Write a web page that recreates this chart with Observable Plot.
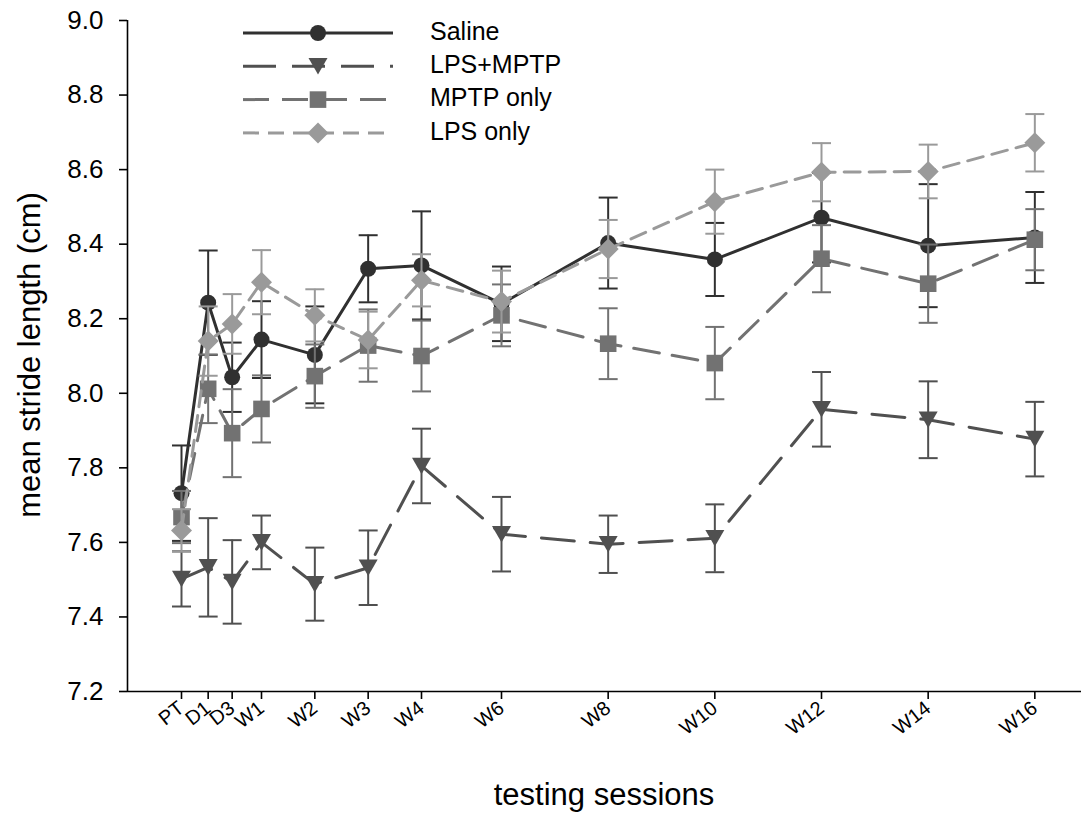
<!DOCTYPE html>
<html>
<head>
<meta charset="utf-8">
<script src="https://cdn.jsdelivr.net/npm/d3@7"></script>
<script src="https://cdn.jsdelivr.net/npm/@observablehq/plot@0.6"></script>
<style>
  body { margin: 0; background: #fff; }
  #chart svg { display: block; }
</style>
</head>
<body>
<div id="chart"></div>
<script>
// ---------------- data ----------------
const sessions   = ["PT", "D1", "D3", "W1", "W2", "W3", "W4", "W6", "W8", "W10", "W12", "W14", "W16"];
const sessionX   = [0, 1, 1.9, 3, 5, 7, 9, 12, 16, 20, 24, 28, 32];   // session position on the time axis

const seriesNames = ["Saline", "LPS+MPTP", "MPTP only", "LPS only"];

const salineMean = [7.732, 8.243, 8.043, 8.144, 8.103, 8.334, 8.343, 8.240, 8.403, 8.359, 8.471, 8.396, 8.418];
const salineSE   = [0.128, 0.140, 0.093, 0.103, 0.130, 0.090, 0.145, 0.100, 0.122, 0.098, 0.120, 0.165, 0.122];

const lpsMptpMean = [7.502, 7.533, 7.494, 7.600, 7.488, 7.532, 7.805, 7.622, 7.595, 7.611, 7.957, 7.929, 7.877];
const lpsMptpSE   = [0.074, 0.132, 0.112, 0.072, 0.098, 0.100, 0.100, 0.100, 0.077, 0.091, 0.100, 0.103, 0.100];

const mptpMean = [7.668, 8.012, 7.893, 7.958, 8.046, 8.128, 8.100, 8.209, 8.133, 8.081, 8.361, 8.294, 8.412];
const mptpSE   = [0.070, 0.092, 0.118, 0.090, 0.085, 0.097, 0.095, 0.083, 0.095, 0.097, 0.090, 0.105, 0.082];

const lpsMean = [7.632, 8.140, 8.186, 8.298, 8.209, 8.143, 8.303, 8.246, 8.387, 8.514, 8.593, 8.595, 8.672];
const lpsSE   = [0.057, 0.093, 0.080, 0.086, 0.070, 0.076, 0.070, 0.083, 0.078, 0.086, 0.078, 0.072, 0.077];

const yTicks = [7.2, 7.4, 7.6, 7.8, 8.0, 8.2, 8.4, 8.6, 8.8, 9.0];
const yDomain = [7.2, 9.0];
const xDomain = [-2.025, 33.75];

const yLabel = "mean stride length (cm)";
const xLabel = "testing sessions";

// ---------------- symbols ----------------
function sym(fn) { return { draw(ctx, size) { fn(ctx, Math.sqrt(size / Math.PI)); } }; }
const circleSym  = sym((c, r) => { c.moveTo(r, 0); c.arc(0, 0, r, 0, 2 * Math.PI); c.closePath(); });
const triDownSym = sym((c, r) => { const h = 0.87 * r; c.moveTo(-r, -h); c.lineTo(r, -h); c.lineTo(0, h); c.closePath(); });
const squareSym  = sym((c, r) => { c.rect(-r, -r, 2 * r, 2 * r); });
const diamondSym = sym((c, r) => { c.moveTo(0, -r); c.lineTo(r, 0); c.lineTo(0, r); c.lineTo(-r, 0); c.closePath(); });
const capSym     = sym((c, r) => { c.moveTo(-r, 0); c.lineTo(r, 0); });

const styles = [
  { color: "#303030", dash: null,    symbol: circleSym,  r: 8 },
  { color: "#505050", dash: "33,16", symbol: triDownSym, r: 9.5 },
  { color: "#727272", dash: "26,13", symbol: squareSym,  r: 8.3 },
  { color: "#9a9a9a", dash: "16,9",  symbol: diamondSym, r: 10.5 }
];

const seriesData = [
  [salineMean, salineSE],
  [lpsMptpMean, lpsMptpSE],
  [mptpMean, mptpSE],
  [lpsMean, lpsSE]
].map(([m, s], k) => sessions.map((lab, i) => ({
  series: seriesNames[k], x: sessionX[i], label: lab, mean: m[i], se: s[i]
})));

const labelByX = new Map(sessionX.map((x, i) => [x, sessions[i]]));

// ---------------- marks ----------------
const marks = [];
seriesData.forEach((rows, k) => {
  const st = styles[k];
  marks.push(
    Plot.line(rows, { x: "x", y: "mean", stroke: st.color, strokeWidth: 3,
      strokeDasharray: st.dash || undefined, strokeLinejoin: "miter" }),
    Plot.ruleX(rows, { x: "x", y1: d => d.mean - d.se, y2: d => d.mean + d.se, stroke: st.color, strokeWidth: 2 }),
    Plot.dot(rows, { x: "x", y: d => d.mean + d.se, symbol: capSym, r: 9.5, fill: "none", stroke: st.color, strokeWidth: 2 }),
    Plot.dot(rows, { x: "x", y: d => d.mean - d.se, symbol: capSym, r: 9.5, fill: "none", stroke: st.color, strokeWidth: 2 }),
    Plot.dot(rows, { x: "x", y: "mean", symbol: st.symbol, r: st.r, fill: st.color, stroke: "none" })
  );
});

const chart = Plot.plot({
  width: 1081,
  height: 813,
  marginLeft: 127,
  marginRight: 0,
  marginTop: 20,
  marginBottom: 122,
  style: { fontFamily: "'Liberation Sans', Arial, Helvetica, sans-serif", background: "#fff", color: "#000" },
  x: { domain: xDomain, axis: null },
  y: { domain: yDomain, axis: null },
  marks: [
    Plot.ruleY([yDomain[0]], { stroke: "#000", strokeWidth: 1.6 }),
    Plot.ruleX([xDomain[0]], { y1: yDomain[0], y2: yDomain[1], stroke: "#000", strokeWidth: 1.6 }),
    Plot.axisY(yTicks, { tickSize: 8, tickPadding: 16, tickFormat: d3.format(".1f"), fontSize: 26, label: null, strokeWidth: 1.6 }),
    Plot.axisX(sessionX, { tickSize: 8, tickPadding: 6, tickRotate: -38, textAnchor: "end",
      tickFormat: d => labelByX.get(d), fontSize: 20, label: null, strokeWidth: 1.6 }),
    ...marks
  ]
});

// ---------------- titles & legend ----------------
const svg = d3.select(chart);
svg.append("text")
  .attr("transform", "translate(32,355) rotate(-90)")
  .attr("text-anchor", "middle").attr("dominant-baseline", "middle")
  .attr("font-size", 31).attr("fill", "#000").text(yLabel);
svg.append("text")
  .attr("x", 604).attr("y", 797)
  .attr("text-anchor", "middle").attr("dominant-baseline", "middle")
  .attr("font-size", 31).attr("fill", "#000").text(xLabel);

const leg = svg.append("g").attr("class", "legend");
seriesNames.forEach((name, k) => {
  const st = styles[k];
  const y = 33 + k * 33.3;
  leg.append("line").attr("x1", 243).attr("x2", 393).attr("y1", y).attr("y2", y)
    .attr("stroke", st.color).attr("stroke-width", 3)
    .attr("stroke-dasharray", st.dash || null);
  leg.append("path").attr("transform", `translate(318,${y})`)
    .attr("d", d3.symbol().type(st.symbol).size(Math.PI * st.r * st.r)())
    .attr("fill", st.color);
  leg.append("text").attr("x", 430).attr("y", y)
    .attr("text-anchor", "start")
    .attr("dominant-baseline", "middle").attr("font-size", 25).attr("fill", "#000").text(name);
});

document.getElementById("chart").appendChild(chart);
</script>
</body>
</html>
